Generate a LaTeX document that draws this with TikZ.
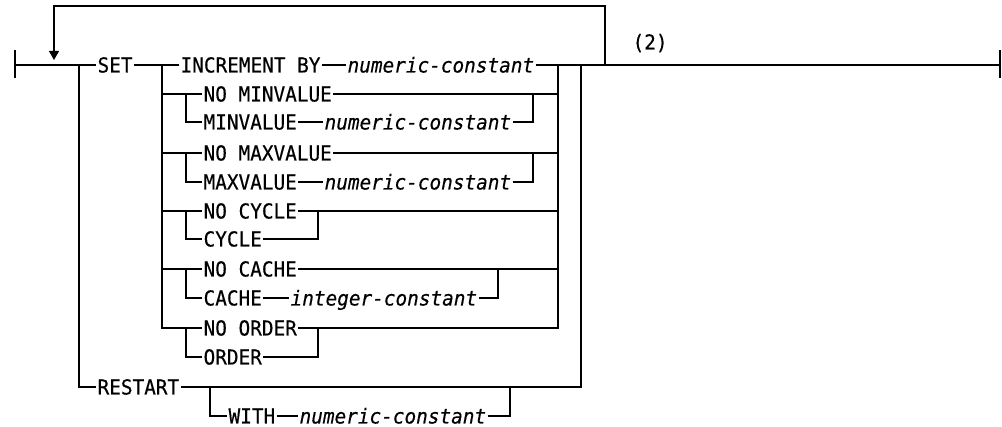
\documentclass[tikz,border=0pt]{standalone}
\usepackage{fontspec}
\newfontfamily\dmono[FakeStretch=0.94,FakeBold=0.4]{DejaVu Sans Mono}
\usetikzlibrary{arrows.meta}
\begin{document}
\begin{tikzpicture}[x=1pt,y=-1pt,line width=1.2pt,
  kw/.style={font=\dmono\fontsize{20.6}{22}\selectfont, inner xsep=1pt, inner ysep=0pt,
             text height=15pt, text depth=0pt, anchor=west},
  var/.style={kw, font=\dmono\itshape\fontsize{20.6}{22}\selectfont},
  tip/.style={-{Triangle[width=10pt,length=9pt]}}]
\useasboundingbox (0,0) rectangle (1002,427);
% junction coordinates
\coordinate (bl) at (15,65);
\coordinate (br) at (1000,65);
\coordinate (jL) at (79,65);
\coordinate (jI) at (162,65);
\coordinate (jR) at (558,65);
\coordinate (jO) at (581,65);
\coordinate (jLoop) at (605,65);
\coordinate (top) at (0,6);
\coordinate (arr) at (54,60);
\coordinate (sx) at (186,0);
\coordinate (rA) at (533,0);
\coordinate (rC) at (318,0);
\coordinate (rD) at (498,0);
\coordinate (rs) at (210,0);
\coordinate (rW) at (510,0);
% nodes
\node[kw] (set) at (96,65) {SET};
\node[kw] (inc) at (179,65) {INCREMENT BY};
\node[var] (incv) at (346,65) {numeric-constant};
\node[kw] (nomin) at (202,94) {NO MINVALUE};
\node[kw] (min) at (202,122) {MINVALUE};
\node[var] (minv) at (323,122) {numeric-constant};
\node[kw] (nomax) at (202,153) {NO MAXVALUE};
\node[kw] (max) at (202,182) {MAXVALUE};
\node[var] (maxv) at (323,182) {numeric-constant};
\node[kw] (nocyc) at (202,211) {NO CYCLE};
\node[kw] (cyc) at (202,239) {CYCLE};
\node[kw] (nocache) at (202,269) {NO CACHE};
\node[kw] (cache) at (202,298) {CACHE};
\node[var] (cachev) at (289,298) {integer-constant};
\node[kw] (noord) at (202,328) {NO ORDER};
\node[kw] (ord) at (202,357) {ORDER};
\node[kw] (restart) at (96,387) {RESTART};
\node[kw] (with) at (227,416) {WITH};
\node[var] (withv) at (298,416) {numeric-constant};
\node[kw] (two) at (631,42) {(2)};
% end bars
\draw ([yshift=-13pt]bl) -- ([yshift=15pt]bl);
\draw ([yshift=-13pt]br) -- ([yshift=15pt]br);
% main line
\draw (bl) -- (set);
\draw (set) -- (inc);
\draw (inc) -- (incv);
\draw (incv) -- (br);
% loop back
\draw[tip] (jLoop) -- (jLoop |- top) -- (arr |- top) -- (arr);
% outer stack
\draw (jL) |- (restart);
\draw (jO) |- (restart);
% inner stack
\draw (jI) |- (noord);
\draw (jR) |- (noord);
\draw (jI |- nomin) -- (nomin);
\draw (jI |- nomax) -- (nomax);
\draw (jI |- nocyc) -- (nocyc);
\draw (jI |- nocache) -- (nocache);
\draw (nomin) -- (nomin -| jR);
\draw (nomax) -- (nomax -| jR);
\draw (nocyc) -- (nocyc -| jR);
\draw (nocache) -- (nocache -| jR);
% sub choices
\draw (nomin -| sx) |- (min);
\draw (min) -- (minv);
\draw (minv) -| (nomin -| rA);
\draw (nomax -| sx) |- (max);
\draw (max) -- (maxv);
\draw (maxv) -| (nomax -| rA);
\draw (nocyc -| sx) |- (cyc);
\draw (cyc) -| (nocyc -| rC);
\draw (nocache -| sx) |- (cache);
\draw (cache) -- (cachev);
\draw (cachev) -| (nocache -| rD);
\draw (noord -| sx) |- (ord);
\draw (ord) -| (noord -| rC);
% restart with
\draw (restart -| rs) |- (with);
\draw (with) -- (withv);
\draw (withv) -| (restart -| rW);
\end{tikzpicture}
\end{document}
